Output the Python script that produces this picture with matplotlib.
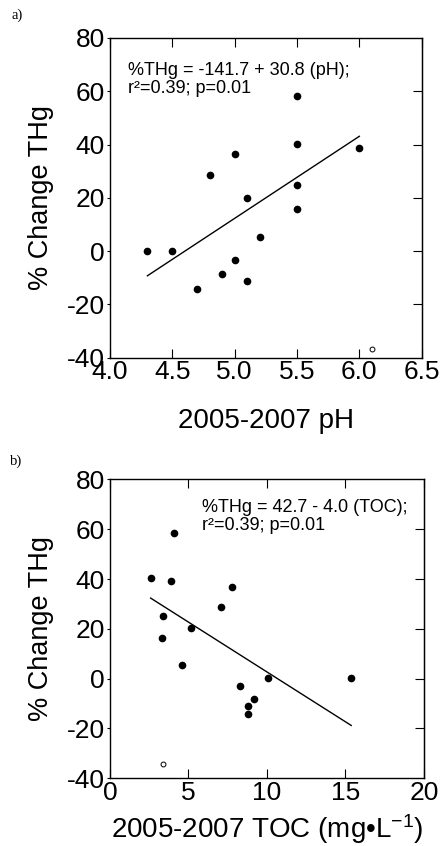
import numpy as np
import matplotlib
matplotlib.use('Agg')
import matplotlib.pyplot as plt

plt.rcParams['font.family'] = ['Liberation Sans', 'DejaVu Sans']
plt.rcParams['mathtext.fontset'] = 'custom'
plt.rcParams['mathtext.rm'] = 'Liberation Sans'
plt.rcParams['mathtext.it'] = 'Liberation Sans:italic'
plt.rcParams['axes.unicode_minus'] = False

# panel a: pH vs % change THg
ph = [4.3, 4.5, 4.7, 4.8, 4.9, 5.0, 5.0, 5.1, 5.1, 5.2, 5.5, 5.5, 5.5, 5.5, 6.0]
thg_a = [0, 0, -14.3, 28.6, -8.4, 36.5, -3.3, 20.0, -11.2, 5.3, 58.3, 40.1, 24.9, 15.9, 38.8]
ph_out = [6.1]
thg_a_out = [-36.8]
fit_a = (-141.7, 30.8)

# panel b: TOC vs % change THg
toc = [2.59, 3.38, 3.29, 4.08, 3.89, 4.59, 5.16, 7.07, 7.77, 8.26, 8.77, 8.77, 9.17, 10.06, 15.37]
thg_b = [40.3, 25.3, 16.2, 58.6, 39.1, 5.5, 20.2, 28.9, 36.7, -3.1, -11.0, -14.2, -8.2, 0.3, 0.3]
toc_out = [3.38]
thg_b_out = [-34.4]
fit_b = (42.7, -4.0)

fig = plt.figure(figsize=(4.44, 8.46), dpi=100)
ax1 = fig.add_axes([0.2477, 0.5772, 0.702, 0.3779])
ax2 = fig.add_axes([0.2477, 0.0800, 0.707, 0.3534])


def style(ax, xlim, xticks, xlabels, xlab, lpad):
    ax.set_xlim(*xlim)
    ax.set_ylim(-40, 80)
    ax.set_xticks(xticks)
    ax.set_xticklabels(xlabels)
    ax.set_yticks([-40, -20, 0, 20, 40, 60, 80])
    for s in ax.spines.values():
        s.set_linewidth(1.0)
    ax.tick_params(axis='x', direction='in', top=True, length=6.5, width=0.8,
                   labelsize=19, pad=2)
    ax.tick_params(axis='y', direction='out', length=2.5, width=0.8,
                   labelsize=19, pad=1)
    sec = ax.secondary_yaxis('right')
    sec.set_yticks([-20, 0, 20, 40, 60])
    sec.tick_params(direction='in', length=6.5, width=0.8, labelright=False)
    ax.set_xlabel(xlab, fontsize=20, labelpad=lpad)
    ax.set_ylabel('% Change THg', fontsize=19.5, labelpad=9)


# a)
ax1.plot(ph, thg_a, 'o', color='black', ms=4.5)
ax1.plot(ph_out, thg_a_out, 'o', mfc='white', mec='black', ms=3.5, mew=0.7)
xs = np.array([min(ph), max(ph)])
ax1.plot(xs, fit_a[0] + fit_a[1] * xs, color='black', lw=1.0)
style(ax1, (4.0, 6.5), [4.0, 4.5, 5.0, 5.5, 6.0, 6.5],
      ['4.0', '4.5', '5.0', '5.5', '6.0', '6.5'], '2005-2007 pH', 17)
ax1.text(0.058, 0.925, '%THg = -141.7 + 30.8 (pH);\nr²=0.39; p=0.01',
         transform=ax1.transAxes, fontsize=13, va='top', ha='left',
         linespacing=1.1)

# b)
ax2.plot(toc, thg_b, 'o', color='black', ms=4.5)
ax2.plot(toc_out, thg_b_out, 'o', mfc='white', mec='black', ms=3.5, mew=0.7)
xs = np.array([min(toc), max(toc)])
ax2.plot(xs, fit_b[0] + fit_b[1] * xs, color='black', lw=1.0)
style(ax2, (0, 20), [0, 5, 10, 15, 20], ['0', '5', '10', '15', '20'],
      r'2005-2007 TOC (mg•L$^{\mathregular{-1}}$)', 5)
ax2.text(0.292, 0.935, '%THg = 42.7 - 4.0 (TOC);\nr²=0.39; p=0.01',
         transform=ax2.transAxes, fontsize=13, va='top', ha='left',
         linespacing=1.1)

fig.text(0.027, 0.982, 'a)', family='Liberation Serif', fontsize=10.5, va='center')
fig.text(0.022, 0.455, 'b)', family='Liberation Serif', fontsize=10.5, va='center')

fig.savefig('out.png', dpi=100)
